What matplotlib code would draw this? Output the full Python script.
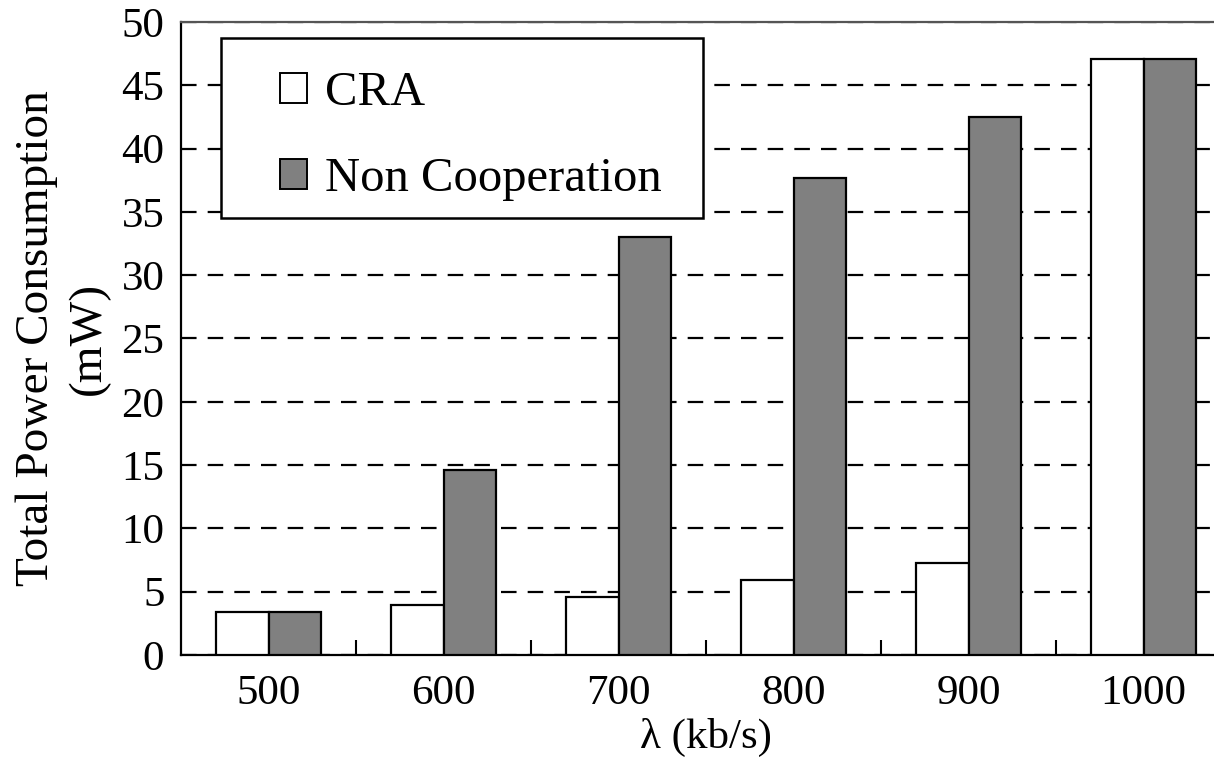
import matplotlib
matplotlib.use('Agg')
import matplotlib.pyplot as plt
from matplotlib.patches import Rectangle, Patch
import numpy as np

# data
rates = ['500', '600', '700', '800', '900', '1000']
cra = [3.4, 3.95, 4.6, 5.9, 7.3, 47.1]
non_coop = [3.4, 14.6, 33.0, 37.7, 42.5, 47.1]

plt.rcParams['font.family'] = ['Liberation Serif', 'DejaVu Serif']

fig = plt.figure(figsize=(12.14, 7.70), dpi=100)
ax = fig.add_axes([0.1491, 0.1494, 0.865, 0.822])

x = np.arange(len(rates))
w = 0.3
ax.bar(x - w / 2, cra, w, color='white', edgecolor='black', linewidth=1.6, zorder=3)
ax.bar(x + w / 2, non_coop, w, color='#808080', edgecolor='black', linewidth=1.6, zorder=3)

ax.set_xlim(-0.5, 5.5)
ax.set_ylim(0, 50)
ax.set_yticks(np.arange(0, 51, 5))
ax.set_xticks(x)
ax.set_xticklabels(rates)
ax.set_xticks(x[:-1] + 0.5, minor=True)

ax.tick_params(axis='x', which='major', length=0, labelsize=31, pad=14)
ax.tick_params(axis='x', which='minor', direction='in', length=11, width=1.5)
ax.tick_params(axis='y', direction='in', length=0, labelsize=31, pad=12)

ax.yaxis.grid(True, color='black', linestyle=(0, (7, 5)), linewidth=1.6, zorder=1)
ax.set_axisbelow(True)

for s in ['left', 'bottom', 'top']:
    ax.spines[s].set_linewidth(1.6)
ax.spines['top'].set_color('#555555')
ax.spines['right'].set_visible(False)

ax.set_xlabel('λ (kb/s)', fontsize=31, labelpad=4)
ax.set_ylabel('Total Power Consumption\n(mW)', fontsize=34, labelpad=8, linespacing=1.3)

# legend box
ax.add_patch(Rectangle((0.038, 0.690), 0.459, 0.285, transform=ax.transAxes,
                       facecolor='white', edgecolor='black', linewidth=1.8,
                       zorder=4, clip_on=False))
handles = [Patch(facecolor='white', edgecolor='black', linewidth=1.4),
           Patch(facecolor='#808080', edgecolor='black', linewidth=1.4)]
leg = ax.legend(handles, ['CRA', 'Non Cooperation'], loc='upper left',
                bbox_to_anchor=(0.094, 0.922), bbox_transform=ax.transAxes,
                frameon=False, fontsize=35, handlelength=0.56, handleheight=0.56,
                handletextpad=0.37, labelspacing=0.86, borderpad=0, borderaxespad=0)
leg.set_zorder(5)

fig.savefig('out.png', dpi=100)
